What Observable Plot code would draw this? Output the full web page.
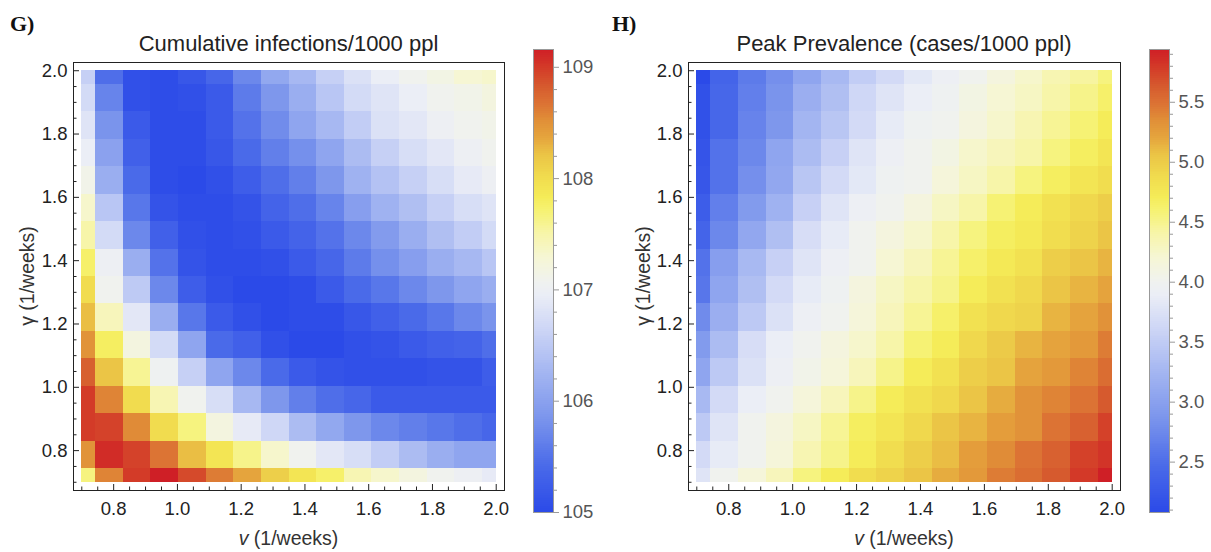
<!DOCTYPE html>
<html><head><meta charset="utf-8">
<script src="https://cdn.jsdelivr.net/npm/d3@7"></script>
<script src="https://cdn.jsdelivr.net/npm/@observablehq/plot@0.6"></script>
<style>
body{margin:0;background:#fff;}
#wrap{position:relative;width:1211px;height:552px;overflow:hidden;font-family:"Liberation Sans",Arial,sans-serif;background:#fff;}
#wrap svg{position:absolute;left:0;top:0;}
.panel{position:absolute;font-family:"Liberation Serif","Times New Roman",serif;font-weight:bold;font-size:22px;line-height:24px;color:#111;}
.title{position:absolute;font-size:22px;line-height:24px;color:#222;white-space:nowrap;transform:translateX(-50%);}
.xlab{position:absolute;font-size:19.5px;line-height:22px;color:#333;white-space:nowrap;transform:translateX(-50%);}
.ylab{position:absolute;font-size:19.5px;line-height:22px;color:#333;white-space:nowrap;transform:translate(-50%,-50%) rotate(-90deg);}
</style></head><body><div id="wrap"></div>
<script>
// ---- data ----
const vRate = [0.7, 0.7867, 0.8733, 0.96, 1.0467, 1.1333, 1.22, 1.3067, 1.3933, 1.48, 1.5667, 1.6533, 1.74, 1.8267, 1.9133, 2.0];
// rows listed from top (gamma = 2.0) to bottom (gamma = 0.7)
const gammaRows = [2.0, 1.9133, 1.8267, 1.74, 1.6533, 1.5667, 1.48, 1.3933, 1.3067, 1.22, 1.1333, 1.0467, 0.96, 0.8733, 0.7867, 0.7];

const cumulativeInfections = [
  [106.58,105.46,105.08,105.04,105.17,105.37,105.71,106.08,106.29,106.58,106.79,106.96,107.08,107.16,107.29,107.33],
  [106.71,105.67,105.08,105.04,105.08,105.21,105.58,105.87,106.16,106.46,106.71,106.83,106.96,107.08,107.12,107.20],
  [106.83,105.83,105.21,105.04,105.04,105.21,105.50,105.75,106.04,106.29,106.54,106.79,106.87,107.00,107.08,107.12],
  [106.96,106.00,105.29,105.04,105.04,105.17,105.42,105.62,105.79,106.04,106.33,106.58,106.75,106.87,107.00,107.08],
  [107.12,106.16,105.42,105.04,105.00,105.08,105.25,105.46,105.62,105.87,106.21,106.41,106.58,106.75,106.91,107.00],
  [107.33,106.46,105.54,105.12,105.04,105.04,105.12,105.33,105.46,105.67,105.96,106.21,106.37,106.58,106.75,106.83],
  [107.50,106.71,105.71,105.29,105.08,105.04,105.08,105.21,105.33,105.50,105.71,105.92,106.16,106.37,106.54,106.71],
  [107.75,107.00,106.16,105.50,105.12,105.04,105.04,105.08,105.21,105.37,105.58,105.79,105.96,106.16,106.29,106.46],
  [108.00,107.08,106.50,105.71,105.25,105.08,105.00,105.00,105.04,105.21,105.42,105.54,105.71,105.87,106.04,106.16],
  [108.24,107.41,106.87,106.16,105.54,105.21,105.08,105.00,105.04,105.04,105.17,105.29,105.42,105.54,105.71,105.83],
  [108.49,107.79,107.20,106.71,106.04,105.42,105.29,105.08,105.00,105.00,105.08,105.12,105.21,105.29,105.33,105.46],
  [108.79,108.20,107.58,107.04,106.58,106.04,105.71,105.42,105.21,105.12,105.08,105.08,105.08,105.12,105.12,105.25],
  [108.99,108.58,108.00,107.45,107.08,106.75,106.29,105.87,105.62,105.46,105.37,105.21,105.21,105.21,105.21,105.21],
  [108.99,108.95,108.54,108.00,107.66,107.20,106.91,106.66,106.33,106.08,105.87,105.71,105.62,105.54,105.46,105.37],
  [108.49,109.08,108.95,108.66,108.24,107.91,107.62,107.33,107.08,106.87,106.75,106.54,106.33,106.16,106.04,106.04],
  [107.66,108.58,108.99,109.16,108.91,108.62,108.37,108.12,107.91,107.75,107.45,107.33,107.20,107.08,107.00,106.91]
];

const peakPrevalence = [
  [2.08,2.39,2.62,2.81,3.05,3.28,3.51,3.66,3.82,3.93,4.01,4.13,4.24,4.36,4.43,4.55],
  [2.16,2.43,2.66,2.85,3.16,3.35,3.62,3.78,3.89,3.97,4.09,4.20,4.28,4.40,4.51,4.63],
  [2.16,2.43,2.70,2.89,3.24,3.43,3.66,3.86,3.97,4.01,4.13,4.24,4.36,4.47,4.59,4.70],
  [2.20,2.54,2.74,3.05,3.32,3.55,3.78,3.93,4.01,4.09,4.24,4.32,4.40,4.55,4.67,4.78],
  [2.23,2.54,2.81,3.08,3.43,3.66,3.82,3.97,4.01,4.16,4.28,4.40,4.55,4.67,4.78,4.86],
  [2.31,2.66,2.93,3.20,3.55,3.78,3.93,4.01,4.13,4.28,4.40,4.59,4.70,4.82,4.90,4.98],
  [2.39,2.74,3.08,3.35,3.70,3.86,4.01,4.13,4.24,4.40,4.55,4.67,4.74,4.86,4.94,5.05],
  [2.54,2.97,3.28,3.55,3.78,3.93,4.01,4.20,4.32,4.47,4.63,4.74,4.82,4.98,5.05,5.13],
  [2.58,3.05,3.35,3.66,3.86,3.97,4.13,4.28,4.40,4.51,4.70,4.82,4.90,5.05,5.13,5.21],
  [2.77,3.16,3.47,3.74,3.93,4.01,4.16,4.32,4.47,4.63,4.82,4.90,4.94,5.13,5.21,5.32],
  [2.93,3.32,3.70,3.89,4.01,4.13,4.24,4.40,4.59,4.70,4.90,5.01,5.13,5.21,5.28,5.44],
  [3.05,3.47,3.74,3.93,4.05,4.16,4.32,4.51,4.70,4.82,4.98,5.05,5.21,5.28,5.40,5.52],
  [3.28,3.66,3.89,4.01,4.16,4.32,4.51,4.70,4.82,4.90,5.05,5.17,5.32,5.40,5.48,5.63],
  [3.47,3.78,4.01,4.13,4.28,4.47,4.67,4.78,4.90,5.05,5.13,5.25,5.32,5.48,5.59,5.75],
  [3.66,3.86,4.01,4.16,4.36,4.51,4.70,4.86,4.98,5.09,5.25,5.36,5.48,5.59,5.75,5.82],
  [3.78,4.01,4.16,4.32,4.55,4.70,4.86,4.94,5.05,5.17,5.28,5.44,5.52,5.63,5.79,5.94]
];

const cumulativeRange = [105.0, 109.16];
const peakRange = [2.08, 5.94];
const axisTicks = [0.8, 1.0, 1.2, 1.4, 1.6, 1.8, 2.0];
const cumulativeBarTicks = [105, 106, 107, 108, 109];
const peakBarTicks = [2.5, 3.0, 3.5, 4.0, 4.5, 5.0, 5.5];

// ---- style: temperature-like palette ----
const paletteStops = [0, 0.10, 0.20, 0.30, 0.40, 0.47, 0.50, 0.55, 0.60, 0.65, 0.68, 0.72, 0.77, 0.81, 0.85, 0.88, 0.92, 0.96, 1.0];
const paletteColors = ["#2b4ae8","#4a6ae9","#7a94ec","#a3b5f1","#cfd7f6","#ebeef6","#f0f2ee","#f6f6d4","#f7f5aa","#f6f274","#f5ec58","#f1dd4f","#ebc546","#e5a43d","#e08c37","#dc7434","#d65a2e","#d33a28","#cf1f26"];
function colorOpts([lo, hi]) {
  return {type: "linear", domain: paletteStops.map(t => lo + t * (hi - lo)), range: paletteColors, interpolate: "rgb", clamp: true};
}

const W = 1211, H = 552;
const FRAME_TOP = 62, FRAME_BOTTOM = 490;
const axisDomain = [0.674, 2.026];
const minorTicks = d3.range(0.7, 2.0001, 0.05).map(d => +d.toFixed(2)).filter(d => !axisTicks.some(t => Math.abs(t - d) < 1e-6));

function edges(arr, i) {
  const n = arr.length;
  const a = i === 0 ? arr[0] : (arr[i - 1] + arr[i]) / 2;
  const b = i === n - 1 ? arr[n - 1] : (arr[i] + arr[i + 1]) / 2;
  return [Math.min(a, b), Math.max(a, b)];
}

function cellsOf(grid) {
  const cells = [];
  grid.forEach((row, r) => row.forEach((value, c) => {
    const [x1, x2] = edges(vRate, c);
    const [y1, y2] = edges(gammaRows, r);
    cells.push({v: vRate[c], gamma: gammaRows[r], value, x1, x2, y1, y2});
  }));
  return cells;
}

function heatmap(grid, range, left, right) {
  const innerW = right - left, innerH = FRAME_BOTTOM - FRAME_TOP;
  return Plot.plot({
    width: W, height: H,
    marginLeft: left, marginRight: W - right, marginTop: FRAME_TOP, marginBottom: H - FRAME_BOTTOM,
    style: {background: "transparent", fontFamily: "'Liberation Sans', Arial, sans-serif", fontSize: "18.5px", color: "#222", overflow: "visible"},
    x: {domain: axisDomain},
    y: {domain: axisDomain},
    color: colorOpts(range),
    marks: [
      Plot.rect(cellsOf(grid), {x1: "x1", x2: "x2", y1: "y1", y2: "y2", fill: "value", shapeRendering: "crispEdges"}),
      Plot.axisX(axisTicks, {tickSize: 0, tickPadding: 11, tickFormat: d3.format(".1f"), label: null, fill: "#222"}),
      Plot.axisY(axisTicks, {tickSize: 0, tickPadding: 6, tickFormat: d3.format(".1f"), label: null, fill: "#222"}),
      Plot.tickX(axisTicks, {x: d => d, insetTop: innerH - 6, stroke: "#222"}),
      Plot.tickX(minorTicks, {x: d => d, insetTop: innerH - 3.5, stroke: "#222"}),
      Plot.tickY(axisTicks, {y: d => d, insetRight: innerW - 6, stroke: "#222"}),
      Plot.tickY(minorTicks, {y: d => d, insetRight: innerW - 3.5, stroke: "#222"}),
      Plot.frame({stroke: "#222"})
    ]
  });
}

function colorbar(range, left, majors, minors, fmt) {
  const [lo, hi] = range, n = 240, step = (hi - lo) / n;
  const segs = d3.range(n).map(i => lo + i * step);
  return Plot.plot({
    width: W, height: H,
    marginLeft: left, marginRight: W - left - 20, marginTop: 49, marginBottom: H - 512,
    style: {background: "transparent", fontFamily: "'Liberation Sans', Arial, sans-serif", fontSize: "18.5px", overflow: "visible"},
    x: {domain: [0, 1], axis: null},
    y: {domain: range, axis: null},
    color: colorOpts(range),
    marks: [
      Plot.rect(segs, {x1: 0, x2: 1, y1: d => d, y2: d => Math.min(hi, d + step * 1.02), fill: d => d + step / 2, shapeRendering: "crispEdges"}),
      Plot.frame({stroke: "#999"}),
      Plot.axisY(majors, {anchor: "right", tickSize: 5, tickPadding: 4, tickFormat: fmt, label: null, stroke: "#999", fill: "#555"}),
      Plot.axisY(minors, {anchor: "right", tickSize: 3, tickFormat: () => "", label: null, stroke: "#999"})
    ]
  });
}

const wrap = document.getElementById("wrap");
wrap.appendChild(heatmap(cumulativeInfections, cumulativeRange, 73, 504));
wrap.appendChild(heatmap(peakPrevalence, peakRange, 688, 1120));
wrap.appendChild(colorbar(cumulativeRange, 533,
  cumulativeBarTicks, d3.range(105.2, 109.16, 0.2).filter(d => Math.abs(d - Math.round(d)) > 1e-6), d3.format("d")));
wrap.appendChild(colorbar(peakRange, 1149,
  peakBarTicks, d3.range(2.1, 5.95, 0.1).filter(d => Math.abs(d * 2 - Math.round(d * 2)) > 1e-6), d3.format(".1f")));

function addText(cls, html, x, y) {
  const el = document.createElement("div");
  el.className = cls; el.innerHTML = html;
  el.style.left = x + "px"; el.style.top = y + "px";
  wrap.appendChild(el);
}
addText("panel", "G)", 10, 12);
addText("panel", "H)", 612, 12);
addText("title", "Cumulative infections/1000 ppl", 288.5, 32);
addText("title", "Peak Prevalence (cases/1000 ppl)", 904, 32);
addText("xlab", "<i>v</i> (1/weeks)", 288.5, 527);
addText("xlab", "<i>v</i> (1/weeks)", 904, 527);
addText("ylab", "γ (1/weeks)", 27, 276);
addText("ylab", "γ (1/weeks)", 643, 276);
</script></body></html>
